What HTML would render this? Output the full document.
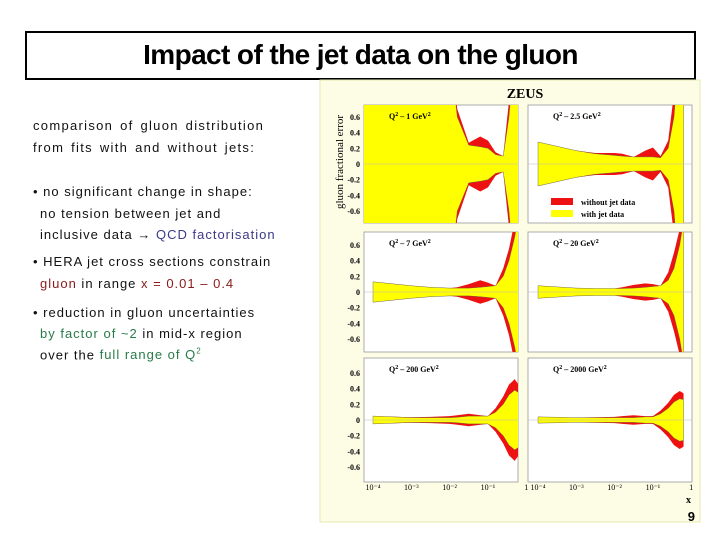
<!DOCTYPE html>
<html><head><meta charset="utf-8"><style>
body{margin:0;width:720px;height:540px;background:#fff;position:relative;overflow:hidden;font-family:"Liberation Sans",sans-serif}
.t{position:absolute;left:33px;font-size:13px;letter-spacing:1px;color:#111;white-space:nowrap}
</style></head><body>
<div style="position:absolute;left:25px;top:31px;width:667px;height:45px;border:2px solid #000;text-align:center;font-size:28px;font-weight:bold;line-height:44px;letter-spacing:-0.6px">Impact of the jet data on the gluon</div>
<div class="t" style="top:118px;letter-spacing:1.3px;word-spacing:2px">comparison of gluon distribution</div>
<div class="t" style="top:140px;letter-spacing:1.3px;word-spacing:2px">from fits with and without jets:</div>
<div class="t" style="top:184px">• no significant change in shape:</div>
<div class="t" style="top:206px;left:40px">no tension between jet and</div>
<div class="t" style="top:227px;left:40px">inclusive data → <span style="color:#3a3a8a">QCD factorisation</span></div>
<div class="t" style="top:254px">• HERA jet cross sections constrain</div>
<div class="t" style="top:276px;left:40px"><span style="color:#8a1a1a">gluon</span> in range <span style="color:#8a1a1a">x = 0.01 – 0.4</span></div>
<div class="t" style="top:305px">• reduction in gluon uncertainties</div>
<div class="t" style="top:326px;left:40px"><span style="color:#2a7a4a">by factor of ~2</span> in mid-x region</div>
<div class="t" style="top:347px;left:40px">over the <span style="color:#2a7a4a">full range of Q<sup style="font-size:8px">2</sup></span></div>
<svg id="chart" width="720" height="540" style="position:absolute;left:0;top:0" xmlns="http://www.w3.org/2000/svg"></svg>
<script>
const logx = [-4,-3,-2.5,-2,-1.8,-1.5,-1.2,-1,-0.8,-0.6,-0.45,-0.3,-0.2];
const q2Labels = ["1","2.5","7","20","200","2000"];
const yellowP1 = [2,2,2,1.5,0.6,0.24,0.22,0.2,0.12,0.1,0.6,1.5,2];
const redP1 = [2,2,2,1.6,0.7,0.27,0.35,0.3,0.15,0.1,0.8,1.8,2];
const yellowP2 = [0.28,0.17,0.13,0.11,0.1,0.09,0.09,0.09,0.08,0.2,0.6,1.5,2];
const redP2 = [0.28,0.17,0.14,0.14,0.13,0.09,0.17,0.21,0.1,0.3,0.9,2,2];
const yellowP3 = [0.13,0.08,0.06,0.05,0.05,0.05,0.06,0.07,0.08,0.2,0.4,0.7,1.0];
const redP3 = [0.13,0.08,0.06,0.05,0.06,0.1,0.15,0.12,0.08,0.3,0.55,0.9,1.3];
const yellowP4 = [0.08,0.05,0.045,0.045,0.045,0.05,0.06,0.07,0.08,0.15,0.3,0.6,0.9];
const redP4 = [0.08,0.05,0.045,0.045,0.06,0.09,0.11,0.1,0.08,0.25,0.5,0.8,1.1];
const yellowP5 = [0.05,0.03,0.03,0.03,0.035,0.05,0.05,0.05,0.1,0.2,0.32,0.38,0.35];
const redP5 = [0.05,0.035,0.04,0.05,0.06,0.08,0.06,0.05,0.15,0.3,0.45,0.52,0.45];
const yellowP6 = [0.04,0.03,0.03,0.03,0.03,0.03,0.04,0.04,0.08,0.15,0.23,0.27,0.26];
const redP6 = [0.04,0.03,0.035,0.04,0.05,0.06,0.05,0.05,0.12,0.22,0.32,0.37,0.34];
const yTicks = [0.6,0.4,0.2,0,-0.2,-0.4,-0.6];
const xTickLabels = ["10⁻⁴","10⁻³","10⁻²","10⁻¹","1"];
const yellows=[yellowP1,yellowP2,yellowP3,yellowP4,yellowP5,yellowP6];
const reds=[redP1,redP2,redP3,redP4,redP5,redP6];
const NS="http://www.w3.org/2000/svg", svg=document.getElementById('chart');
function mk(t,a,p){const e=document.createElementNS(NS,t);for(const k in a)e.setAttribute(k,a[k]);(p||svg).appendChild(e);return e;}
const bg=mk('rect',{x:320,y:80,width:380,height:442,fill:'#fdfde6',stroke:'#e8e8b0'});


const z=mk('text',{x:525,y:98,'text-anchor':'middle','font-family':'Liberation Serif','font-weight':'bold','font-size':14});z.textContent='ZEUS';


const yl=mk('text',{transform:'translate(343,162) rotate(-90)','text-anchor':'middle','font-family':'Liberation Serif','font-size':11});yl.textContent='gluon fractional error';


const cols=[{l:364,r:518,x0:373},{l:528,r:692,x0:538}];
const rows=[{top:105,zero:164},{top:232,zero:292},{top:358,zero:420}];
const dec=38.3, sy=78.5;
const defs=mk('defs',{});
for(let i=0;i<6;i++){
  const c=cols[i%2], r=rows[Math.floor(i/2)];
  const g=mk('g',{});
  
  
  const h=(r.zero-r.top)*2;
  mk('rect',{x:c.l,y:r.top,width:c.r-c.l,height:h,fill:'#fff',stroke:'#999','stroke-width':0.8},g);
  const cp=mk('clipPath',{id:'cp'+i},defs);mk('rect',{x:c.l,y:r.top,width:c.r-c.l,height:h},cp);
  const X=v=>c.x0+(v+4)*dec, Y=v=>r.zero-v*sy;
  const band=(arr,fill,name)=>{
    let d='M'+X(i==0?-4.4:logx[0])+','+Y(arr[0]);
    logx.forEach((lx,j)=>d+=' L'+X(lx)+','+Y(arr[j]));
    for(let j=logx.length-1;j>=0;j--)d+=' L'+X(logx[j])+','+Y(-arr[j]);
    d+=' L'+X(i==0?-4.4:logx[0])+','+Y(-arr[0])+'Z';
    const p=mk('path',{d:d,fill:fill,stroke:fill=='#ffff00'?'#555':'none','stroke-width':0.4,'clip-path':'url(#cp'+i+')'},g);
    
    
  };
  band(reds[i],'#ee1111','band-without-jets');
  band(yellows[i],'#ffff00','band-with-jets');
  mk('line',{x1:c.l,x2:c.r,y1:r.zero,y2:r.zero,stroke:'#bbb','stroke-width':0.6},g);
  const lab=mk('text',{x:c.l+25,y:r.top+14,'font-family':'Liberation Serif','font-weight':'bold','font-size':8});
  lab.innerHTML='Q<tspan dy="-3" font-size="6">2</tspan><tspan dy="3"> – '+q2Labels[i]+' GeV</tspan><tspan dy="-3" font-size="6">2</tspan>';
  
  
  if(i%2==0) yTicks.forEach(t=>{const e=mk('text',{x:360,y:Y(t)+3,'text-anchor':'end','font-family':'Liberation Serif','font-weight':'bold','font-size':8});e.textContent=t==0?'0':t.toFixed(1);
    
    });
  if(i>=4) xTickLabels.forEach((t,k)=>{const e=mk('text',{x:X(-4+k),y:490,'text-anchor':'middle','font-family':'Liberation Serif','font-size':8});e.textContent=t;
    
    });
}
const lg=mk('g',{});


mk('rect',{x:551,y:198,width:22,height:7,fill:'#ee1111'},lg);
mk('rect',{x:551,y:210,width:22,height:7,fill:'#ffff00'},lg);
const l1=mk('text',{x:581,y:205,'font-family':'Liberation Serif','font-weight':'bold','font-size':8},lg);l1.textContent='without jet data';
const l2=mk('text',{x:581,y:217,'font-family':'Liberation Serif','font-weight':'bold','font-size':8},lg);l2.textContent='with jet data';
const xt=mk('text',{x:686,y:503,'font-family':'Liberation Serif','font-weight':'bold','font-size':10});xt.textContent='x';


const pn=mk('text',{x:695,y:521,'text-anchor':'end','font-family':'Liberation Sans','font-weight':'bold','font-size':13});pn.textContent='9';


</script>
</body></html>
